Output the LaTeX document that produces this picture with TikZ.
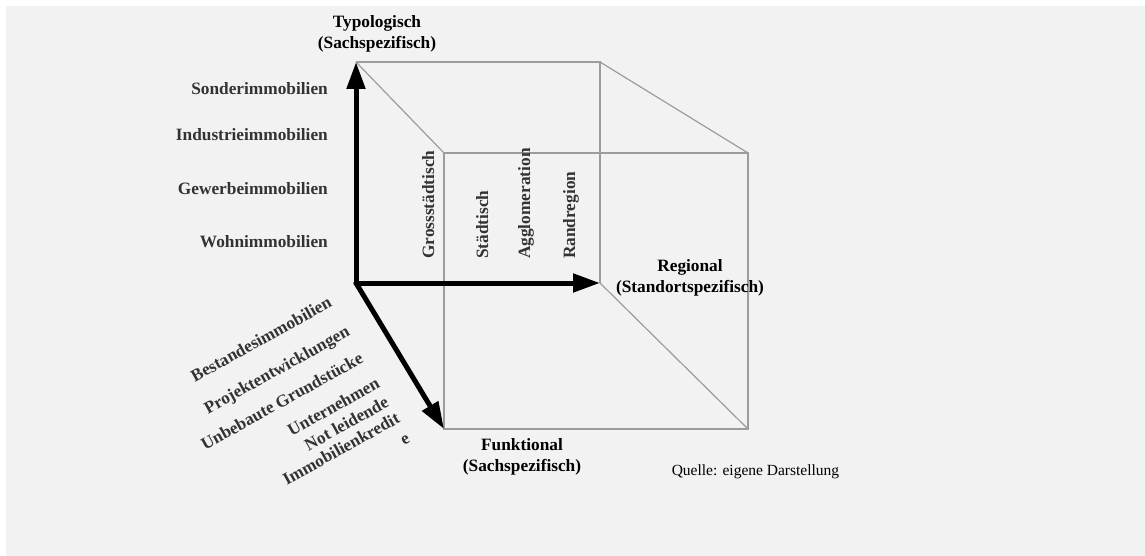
\documentclass[tikz,border=0pt]{standalone}
\usepackage{fontspec}
\setmainfont{Liberation Serif}
\usetikzlibrary{arrows.meta}
\definecolor{bggray}{HTML}{F2F2F2}
\definecolor{edgegray}{HTML}{9C9C9C}
\definecolor{labelgray}{HTML}{333333}

\begin{document}
\begin{tikzpicture}[x=1pt,y=-1pt,
  axis/.style={line width=5pt, line cap=round, -{Triangle[length=27pt,width=18pt]}},
  edge/.style={draw=edgegray, line width=1.2pt},
  lbl/.style={font=\fontsize{17.3}{20}\selectfont\bfseries, text=labelgray, inner sep=0pt},
  ttl/.style={font=\fontsize{17.3}{20}\selectfont\bfseries, text=black, inner sep=0pt},
  src/.style={font=\fontsize{15.5}{18}\selectfont, text=black, inner sep=0pt},
]
\useasboundingbox (0,0) rectangle (1145,556);
\fill[white] (0,0) rectangle (1145,556);
\fill[bggray] (6,6) rectangle (1145,556);

% corners of the cube
\coordinate (O)   at (356,283);
\coordinate (T)   at (356,62);
\coordinate (R)   at (600,283);
\coordinate (TR)  at (600,62);
\coordinate (F)   at (444,429);
\coordinate (FTL) at (444,153);
\coordinate (FTR) at (748,153);
\coordinate (FBR) at (748,429);

% thin cube edges
\draw[edge] (T) -- (TR) -- (R);
\draw[edge] (FTL) -- (FTR) -- (FBR) -- (F) -- cycle;
\draw[edge] (T) -- (FTL);
\draw[edge] (TR) -- (FTR);
\draw[edge] (R) -- (FBR);

% the three axes
\draw[axis] (O) -- (T);
\draw[axis] (O) -- (R);
\draw[axis] (O) -- (F);

% axis titles
\node[ttl, anchor=base] (typ1) at (377,28) {Typologisch};
\node[ttl, anchor=base] (typ2) at (377,49) {(Sachspezifisch)};
\node[ttl, anchor=base] (reg1) at (690,271) {Regional};
\node[ttl, anchor=base] (reg2) at (690,292) {(Standortspezifisch)};
\node[ttl, anchor=base] (fun1) at (522,450) {Funktional};
\node[ttl, anchor=base] (fun2) at (522,471) {(Sachspezifisch)};

% typological classes
\node[lbl, anchor=base east] (sonder) at (328,95) {Sonderimmobilien};
\node[lbl, anchor=base east] (indus)  at (328,141) {Industrieimmobilien};
\node[lbl, anchor=base east] (gewerbe) at (328,194) {Gewerbeimmobilien};
\node[lbl, anchor=base east] (wohn)   at (328,247) {Wohnimmobilien};

% regional classes
\node[lbl, rotate=90, anchor=base west] (gross) at (434,259) {Grossstädtisch};
\node[lbl, rotate=90, anchor=base west] (staedt) at (488,259) {Städtisch};
\node[lbl, rotate=90, anchor=base west] (agglo) at (530,259) {Agglomeration};
\node[lbl, rotate=90, anchor=base west] (rand) at (575,259) {Randregion};

% functional classes
\node[lbl, rotate=29, anchor=base east] (bestand) at (333,306) {Bestandesimmobilien};
\node[lbl, rotate=29, anchor=base east] (projekt) at (351,335) {Projektentwicklungen};
\node[lbl, rotate=29, anchor=base east] (unbeb)   at (364.5,362) {Unbebaute Grundstücke};
\node[lbl, rotate=29, anchor=base east] (untern)  at (381,387) {Unternehmen};
\node[lbl, rotate=29, anchor=base east] (notl)    at (390,406) {Not leidende};
\node[lbl, rotate=29, anchor=base east] (immo)    at (401,422) {Immobilienkredit};
\node[lbl, rotate=29, anchor=base east] (immoe)   at (411,442) {e};

% source note
\node[src, anchor=base] (quelle) at (755.5,475) {Quelle: eigene Darstellung};
\end{tikzpicture}
\end{document}
